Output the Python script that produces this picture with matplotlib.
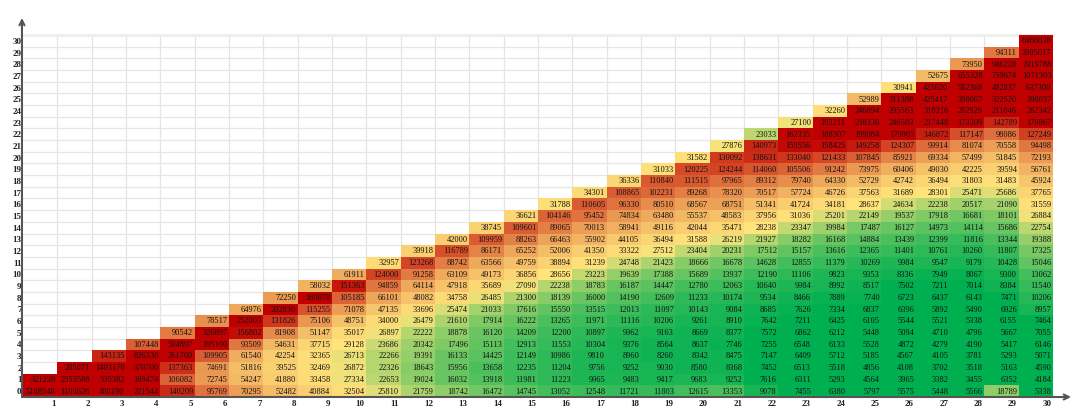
# -*- coding: utf-8 -*-
"""Triangular heat table: values by row (0-30) and column (1-30)."""

import numpy as np
import matplotlib
matplotlib.use('Agg')
import matplotlib.pyplot as plt
from matplotlib.colors import LinearSegmentedColormap, Normalize

# ----------------------------------------------------------------------
# 1. Data, one list per row, read off the table (row r starts at column max(r, 1))
# ----------------------------------------------------------------------
row_00 = [5188548, 1103626, 408190, 221544, 140209, 95769, 70295, 52482, 40884, 32504, 25810, 21759, 18742, 16472, 14745, 13052, 12548, 11721, 11803, 12615, 13353, 9078, 7455, 6380, 5797, 5575, 5448, 5566, 18789, 5338]
row_01 = [321239, 2353588, 535382, 189474, 106082, 72745, 54247, 41880, 33458, 27334, 22653, 19024, 16032, 13918, 11981, 11223, 9965, 9483, 9417, 9683, 9252, 7616, 6311, 5293, 4564, 3965, 3382, 3455, 6352, 4184]
row_02 = [205071, 1403170, 370700, 137363, 74691, 51816, 39525, 32469, 26872, 22326, 18643, 15956, 13658, 12235, 11204, 9756, 9252, 9030, 8580, 8368, 7452, 6513, 5518, 4856, 4108, 3702, 3518, 5163, 4590]
row_03 = [143135, 826330, 261769, 109905, 61540, 42254, 32365, 26713, 22266, 19391, 16133, 14425, 12149, 10986, 9810, 8960, 8260, 8342, 8475, 7147, 6409, 5712, 5185, 4567, 4105, 3781, 5293, 5071]
row_04 = [107448, 504897, 195100, 93509, 54631, 37715, 29128, 23686, 20342, 17496, 15113, 12913, 11553, 10304, 9376, 8564, 8637, 7746, 7255, 6548, 6133, 5528, 4872, 4279, 4190, 5417, 6146]
row_05 = [90542, 326897, 156802, 81908, 51147, 35017, 26897, 22222, 18878, 16120, 14209, 12200, 10897, 9962, 9163, 8669, 8377, 7572, 6862, 6212, 5448, 5094, 4710, 4796, 5667, 7055]
row_06 = [78517, 252003, 131826, 75106, 48751, 34000, 26479, 21610, 17914, 16222, 13265, 11971, 11116, 10206, 9261, 8910, 7642, 7211, 6425, 6105, 5544, 5521, 5338, 6155, 7464]
row_07 = [64976, 202830, 115255, 71078, 47135, 33696, 25474, 21033, 17616, 15550, 13515, 12013, 11097, 10143, 9084, 8685, 7626, 7334, 6837, 6396, 5892, 5490, 6926, 8957]
row_08 = [72250, 169078, 105185, 66101, 48082, 34758, 26485, 21300, 18139, 16000, 14190, 12609, 11233, 10174, 9534, 8466, 7889, 7740, 6723, 6437, 6143, 7471, 10206]
row_09 = [58032, 151363, 94859, 64114, 47918, 35689, 27090, 22238, 18783, 16187, 14447, 12780, 12063, 10640, 9984, 8992, 8517, 7502, 7211, 7014, 8384, 11540]
row_10 = [61911, 124000, 91258, 63109, 49173, 36856, 28656, 23223, 19639, 17388, 15689, 13937, 12190, 11106, 9823, 9353, 8336, 7949, 8067, 9300, 13062]
row_11 = [32957, 123268, 88742, 63566, 49759, 38894, 31239, 24748, 21423, 18666, 16678, 14628, 12855, 11379, 10269, 9984, 9547, 9179, 10428, 15046]
row_12 = [39918, 116789, 86171, 65252, 52006, 41350, 33322, 27512, 23404, 20231, 17512, 15157, 13616, 12365, 11401, 10761, 10260, 11807, 17325]
row_13 = [42000, 109959, 88263, 66463, 55902, 44105, 36494, 31588, 26219, 21927, 18282, 16168, 14884, 13439, 12399, 11816, 13344, 19388]
row_14 = [38745, 109601, 89065, 70013, 58941, 49116, 42044, 35471, 28238, 23347, 19984, 17487, 16127, 14973, 14114, 15686, 22754]
row_15 = [36621, 104146, 95452, 74834, 63480, 55537, 48583, 37956, 31036, 25201, 22149, 19537, 17918, 16681, 18101, 26884]
row_16 = [31788, 110605, 96330, 80510, 68567, 68751, 51341, 41724, 34181, 28637, 24634, 22238, 20517, 21090, 31559]
row_17 = [34301, 108865, 102231, 89268, 78320, 70517, 57724, 46726, 37563, 31689, 28301, 25471, 25686, 37765]
row_18 = [36336, 110840, 111515, 97965, 89312, 79740, 64330, 52729, 42742, 36494, 31803, 31483, 45924]
row_19 = [31033, 120225, 124244, 114060, 105506, 91242, 73975, 60406, 49030, 42225, 39594, 56761]
row_20 = [31582, 130092, 138631, 133040, 121433, 107845, 85921, 69334, 57499, 51845, 72193]
row_21 = [27876, 140973, 159556, 158425, 149258, 124307, 99914, 81074, 70558, 94498]
row_22 = [23033, 162335, 188307, 199084, 179065, 146872, 117147, 98086, 127249]
row_23 = [27100, 193211, 238330, 246583, 217448, 173309, 142789, 179867]
row_24 = [32260, 246894, 295563, 318216, 262929, 211046, 262342]
row_25 = [52989, 311388, 425417, 398067, 322520, 398037]
row_26 = [30941, 425620, 582368, 492837, 637300]
row_27 = [52675, 655328, 759674, 1071303]
row_28 = [73950, 946228, 1919788]
row_29 = [94311, 3905017]
row_30 = [6466038]

ROWS = [row_00, row_01, row_02, row_03, row_04, row_05, row_06, row_07, row_08,
        row_09, row_10, row_11, row_12, row_13, row_14, row_15, row_16, row_17,
        row_18, row_19, row_20, row_21, row_22, row_23, row_24, row_25, row_26,
        row_27, row_28, row_29, row_30]

N_COLS = 30
N_ROWS = len(ROWS)

matrix = np.full((N_ROWS, N_COLS), np.nan)
for r, values in enumerate(ROWS):
    matrix[r, N_COLS - len(values):] = values

# ----------------------------------------------------------------------
# 2. Colour scale (green - yellow - red, saturates at both ends)
# ----------------------------------------------------------------------
V_LOW, V_MID, V_HIGH = 7000, 28000, 165000
mid_pos = (V_MID - V_LOW) / (V_HIGH - V_LOW)
cmap = LinearSegmentedColormap.from_list(
    'table', [(0.0, '#00b050'), (mid_pos, '#ffe47c'), (1.0, '#c00000')])
cmap.set_bad((1, 1, 1, 0))
norm = Normalize(V_LOW, V_HIGH)

# ----------------------------------------------------------------------
# 3. Figure
# ----------------------------------------------------------------------
plt.rcParams['font.family'] = ['Liberation Serif', 'DejaVu Serif']
W, H = 1080, 419
fig = plt.figure(figsize=(W / 100, H / 100), dpi=100)
ax = fig.add_axes([23 / W, 1 - 397 / H, 1030 / W, 362 / H])

x_edges = np.arange(N_COLS + 1)
y_edges = np.arange(N_ROWS + 1)

ax.pcolormesh(x_edges, y_edges, np.ma.masked_invalid(matrix), cmap=cmap, norm=norm,
              edgecolors='none', zorder=2)

# grid under the cells
for x in x_edges[1:]:
    ax.axvline(x, color='#e4e4e4', lw=0.9, zorder=1)
for y in y_edges[1:]:
    ax.axhline(y, color='#e6e6e6', lw=0.9, zorder=1)
ax.axhline(N_ROWS, color='#eeeeee', lw=2.0, zorder=1, clip_on=False)

# cell values, right aligned in the cell
for r in range(N_ROWS):
    for c in range(N_COLS):
        if not np.isnan(matrix[r, c]):
            ax.text(c + 0.955, r + 0.47, f'{int(matrix[r, c])}', ha='right', va='center',
                    fontsize=6.0, color='#111111', zorder=3)

ax.set_xlim(0, N_COLS)
ax.set_ylim(0, N_ROWS)

# tick labels
ax.set_xticks(np.arange(1, N_COLS + 1) - 0.05)
ax.set_xticklabels([str(i) for i in range(1, N_COLS + 1)], ha='right', fontsize=6.5,
                   fontweight='bold', color='#222222')
ax.set_yticks(np.arange(N_ROWS) + 0.5)
ax.set_yticklabels([str(i) for i in range(N_ROWS)], fontsize=6.5, fontweight='bold',
                   color='#222222')
ax.tick_params(axis='x', length=0, pad=2.5)
ax.tick_params(axis='y', length=0, pad=1.0)

for side in ax.spines:
    ax.spines[side].set_visible(False)

# axis arrows
arrow = dict(arrowstyle='->', color='#555555', lw=1.5, shrinkA=0, shrinkB=0,
             mutation_scale=9)
ax.annotate('', xy=(1.0175, 0), xytext=(-0.001, 0), xycoords='axes fraction',
            textcoords='axes fraction', arrowprops=arrow, zorder=5)
ax.annotate('', xy=(-0.001, 1.047), xytext=(-0.001, 0), xycoords='axes fraction',
            textcoords='axes fraction', arrowprops=arrow, zorder=5)

fig.savefig('out.png', dpi=100, facecolor='white')
